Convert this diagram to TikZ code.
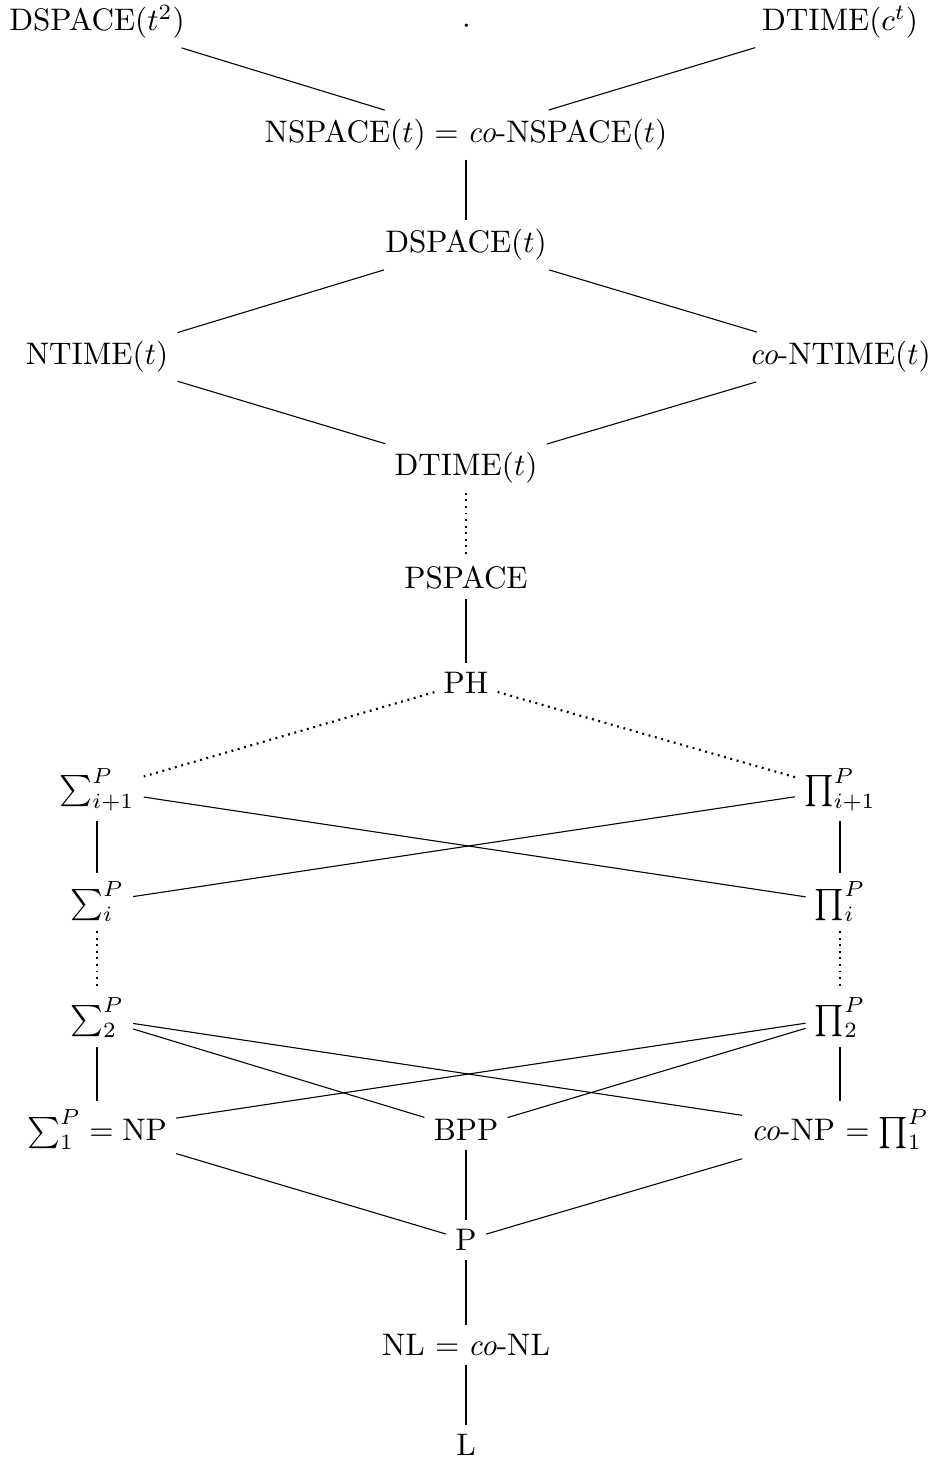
\documentclass[tikz,border=0pt]{standalone}
\begin{document}
\begin{tikzpicture}[x=0.321pt,y=-0.321pt,
  cls/.style={inner sep=3pt,outer sep=0pt,font=\fontsize{10}{12}\selectfont},
  diag/.style={line width=0.35pt},
  vert/.style={line width=0.65pt},
  dots/.style={line width=0.7pt,dash pattern=on 0.6pt off 1.5pt}]
\useasboundingbox (0,0) rectangle (933,1460);
\node[cls] (dsq) at (97,22) {DSPACE$(t^2)$};
\node[inner sep=0pt] (dot) at (467,27) {$\cdot$};
\node[cls] (dtc) at (840,22) {DTIME$(c^t)$};
\node[cls] (nsp) at (466,135) {NSPACE$(t) = \textit{co}$-NSPACE$(t)$};
\node[cls] (dsp) at (466,245) {DSPACE$(t)$};
\node[cls] (nti) at (97,357) {NTIME$(t)$};
\node[cls] (cnti) at (840,357) {\textit{co}-NTIME$(t)$};
\node[cls] (dti) at (466,468) {DTIME$(t)$};
\node[cls] (psp) at (466,578) {PSPACE};
\node[cls] (ph) at (466,683) {PH};
\node[cls] (si1) at (97,790) {$\sum_{i+1}^P$};
\node[cls] (pi1) at (840,790) {$\prod_{i+1}^P$};
\node[cls] (si) at (97,902) {$\sum_{i}^P$};
\node[cls] (pi) at (840,902) {$\prod_{i}^P$};
\node[cls] (s2) at (97,1018) {$\sum_{2}^P$};
\node[cls] (p2) at (840,1018) {$\prod_{2}^P$};
\node[cls] (np) at (97,1130) {$\sum_{1}^P = \mathrm{NP}$};
\node[cls] (bpp) at (466,1130) {BPP};
\node[cls] (conp) at (840,1130) {\textit{co}-NP $= \prod_{1}^P$};
\node[cls] (p) at (466,1240) {P};
\node[cls] (nl) at (466,1345) {NL $= \textit{co}$-NL};
\node[cls] (l) at (466,1445) {L};

\draw[diag] (dsq) -- (nsp);
\draw[diag] (dtc) -- (nsp);
\draw[vert] (nsp) -- (dsp);
\draw[diag] (dsp) -- (nti);
\draw[diag] (dsp) -- (cnti);
\draw[diag] (nti) -- (dti);
\draw[diag] (cnti) -- (dti);
\draw[dots] (dti) -- (psp);
\draw[vert] (psp) -- (ph);
\draw[dots] (ph) -- (si1);
\draw[dots] (ph) -- (pi1);
\draw[diag] (si1) -- (pi);
\draw[diag] (pi1) -- (si);
\draw[vert] (si1) -- (si);
\draw[vert] (pi1) -- (pi);
\draw[dots] (si) -- (s2);
\draw[dots] (pi) -- (p2);
\draw[diag] (s2) -- (conp);
\draw[diag] (s2) -- (bpp);
\draw[diag] (p2) -- (np);
\draw[diag] (p2) -- (bpp);
\draw[vert] (s2) -- (np);
\draw[vert] (p2) -- (conp);
\draw[diag] (np) -- (p);
\draw[diag] (conp) -- (p);
\draw[vert] (bpp) -- (p);
\draw[vert] (p) -- (nl);
\draw[vert] (nl) -- (l);
\end{tikzpicture}
\end{document}
